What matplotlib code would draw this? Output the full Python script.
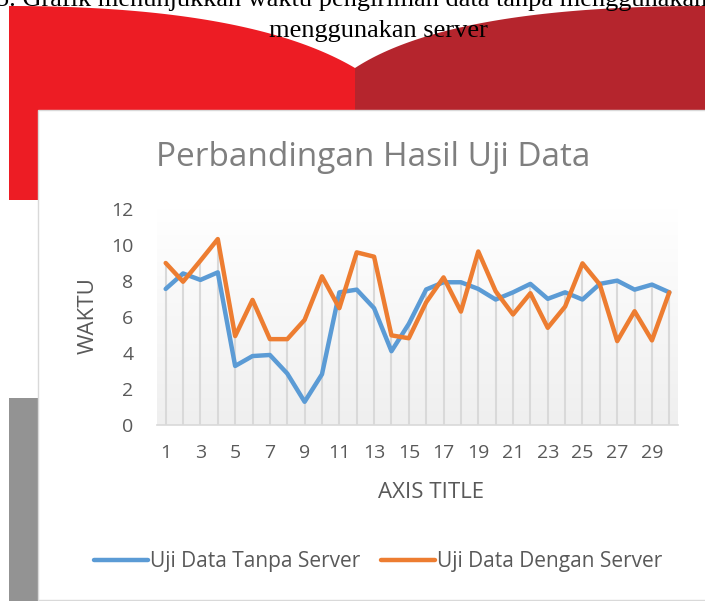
import numpy as np
import matplotlib.pyplot as plt
from matplotlib.colors import LinearSegmentedColormap
from matplotlib.lines import Line2D
from matplotlib.patches import Polygon, Rectangle

W, H = 705, 601

uji_ke = list(range(1, 31))
tanpa_server = [7.56, 8.42, 8.06, 8.48, 3.28, 3.83, 3.89, 2.86, 1.29, 2.82,
                7.37, 7.52, 6.49, 4.10, 5.62, 7.53, 7.93, 7.93, 7.56, 6.97,
                7.37, 7.84, 7.01, 7.37, 6.97, 7.84, 8.02, 7.52, 7.80, 7.37]
dengan_server = [9.00, 7.96, 9.13, 10.33, 4.94, 6.95, 4.77, 4.77, 5.84, 8.26,
                 6.49, 9.59, 9.35, 4.98, 4.82, 6.82, 8.20, 6.30, 9.64, 7.43,
                 6.14, 7.32, 5.40, 6.58, 8.98, 7.80, 4.66, 6.32, 4.70, 7.37]
series_labels = ["Uji Data Tanpa Server", "Uji Data Dengan Server"]
x_ticks = list(range(1, 30, 2))
y_ticks = list(range(0, 13, 2))

BLUE = "#5B9BD5"
ORANGE = "#ED7D31"
TEXT = "#595959"
FONT = "Open Sans"


def fig_xy(x, y):
    return (x / W, 1 - y / H)


def bezier(p0, p1, p2, n=60):
    t = np.linspace(0, 1, n)[:, None]
    p0, p1, p2 = map(np.array, (p0, p1, p2))
    return (1 - t) ** 2 * p0 + 2 * (1 - t) * t * p1 + t ** 2 * p2


def to_fig(points):
    return [fig_xy(x, y) for x, y in points]


fig = plt.figure(figsize=(W / 100, H / 100), dpi=100)

# page decoration behind the chart
left_curve = bezier((9, 6), (250, 6), (355, 68))
right_curve = bezier((355, 68), (450, 6), (705, 6))
red_pts = [(9, 200)] + [tuple(p) for p in left_curve] + [(355, 200)]
dark_pts = [tuple(p) for p in right_curve] + [(705, 110), (355, 110)]
fig.add_artist(Polygon(to_fig(red_pts), closed=True, transform=fig.transFigure,
                       facecolor="#ED1C24", edgecolor="none", zorder=-5))
fig.add_artist(Polygon(to_fig(dark_pts), closed=True, transform=fig.transFigure,
                       facecolor="#B5252D", edgecolor="none", zorder=-5))
fig.add_artist(Rectangle(fig_xy(9, 601), 29 / W, 203 / H, transform=fig.transFigure,
                         facecolor="#939393", edgecolor="none", zorder=-5))

fig.text(*fig_xy(-4, 6), "5. Grafik menunjukkan waktu pengiriman data tanpa menggunakan server",
         family="Liberation Serif", fontsize=19, color="black", ha="left", va="baseline", zorder=-4)
fig.text(*fig_xy(378, 37), "menggunakan server", family="Liberation Serif", fontsize=19,
         color="black", ha="center", va="baseline", zorder=-4)

fig.add_artist(Rectangle(fig_xy(38, 600), 680 / W, 490 / H, transform=fig.transFigure,
                         facecolor="white", edgecolor="#d9d9d9", linewidth=1, zorder=-3))

# chart
ax = fig.add_axes([157 / W, 1 - 425 / H, 521 / W, 216 / H])
ax.patch.set_visible(False)
grad = LinearSegmentedColormap.from_list("bg", ["#ffffff", "#efefef"])
ax.imshow(np.linspace(0, 1, 256).reshape(-1, 1), cmap=grad, aspect="auto",
          extent=[0, 1, 0, 1], transform=ax.transAxes, zorder=0)

ax.vlines(uji_ke, 0, np.maximum(tanpa_server, dengan_server), color="#d9d9d9", lw=1.5, zorder=1)
ax.plot(uji_ke, tanpa_server, color=BLUE, lw=3.2, solid_capstyle="round", zorder=3)
ax.plot(uji_ke, dengan_server, color=ORANGE, lw=3.2, solid_capstyle="round", zorder=4)

ax.set_xlim(0.5, 30.5)
ax.set_ylim(0, 12)
ax.set_xticks(x_ticks)
ax.set_yticks(y_ticks)
ax.tick_params(length=0, labelsize=14, labelcolor=TEXT)
ax.tick_params(axis="x", pad=14)
ax.tick_params(axis="y", pad=17)
for lab in ax.get_xticklabels() + ax.get_yticklabels():
    lab.set_family(FONT)
for side in ["top", "right", "left"]:
    ax.spines[side].set_visible(False)
ax.spines["bottom"].set_color("#d9d9d9")
ax.spines["bottom"].set_linewidth(1.2)
ax.spines["bottom"].set_zorder(5)

fig.text(*fig_xy(373, 157), "Perbandingan Hasil Uji Data", family=FONT, fontsize=24,
         color="#7f7f7f", ha="center", va="center")
fig.text(*fig_xy(88, 316), "WAKTU", family=FONT, fontsize=16, color=TEXT,
         rotation=90, ha="center", va="center")
fig.text(*fig_xy(431, 493), "AXIS TITLE", family=FONT, fontsize=16, color=TEXT,
         ha="center", va="center")

handles = [Line2D([], [], color=BLUE, lw=3.2, solid_capstyle="round"),
           Line2D([], [], color=ORANGE, lw=3.2, solid_capstyle="round")]
fig.legend(handles, series_labels, loc="center", bbox_to_anchor=fig_xy(378, 562),
           ncol=2, frameon=False, handlelength=2.6, handletextpad=0.1, columnspacing=1.0,
           prop={"family": FONT, "size": 15}, labelcolor=TEXT)

fig.savefig("out.png", dpi=100)
